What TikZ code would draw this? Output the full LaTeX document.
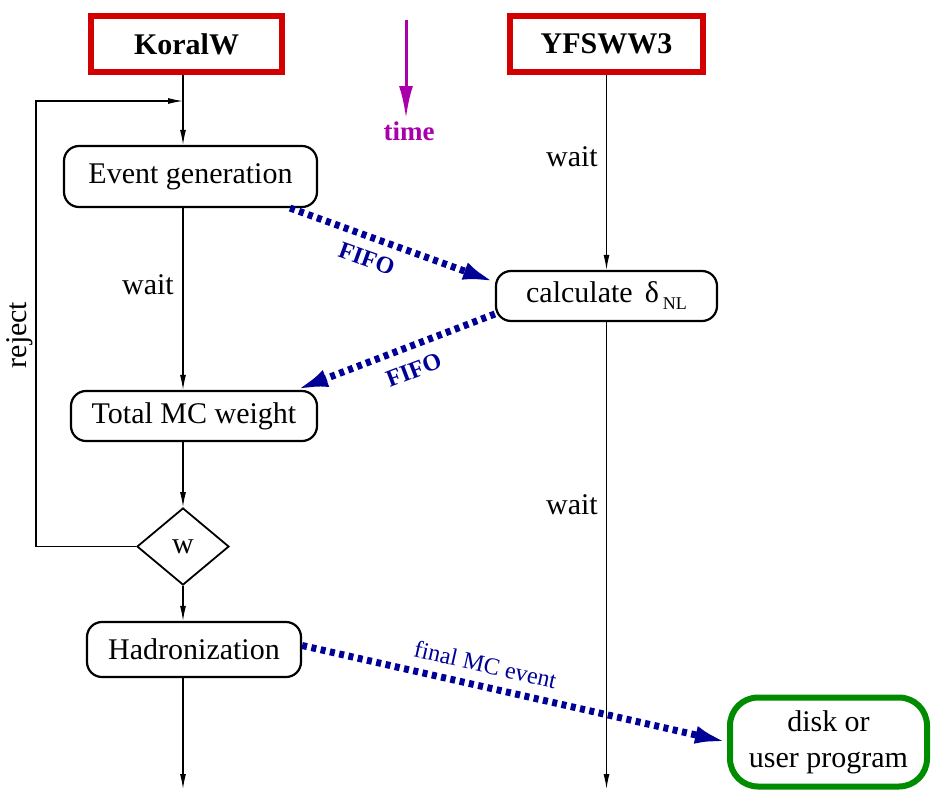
\documentclass[tikz,border=0pt]{standalone}
\usepackage{fontspec}
\setmainfont{Liberation Serif}
\usetikzlibrary{shapes.geometric,arrows.meta}
\definecolor{fifocol}{RGB}{0,0,150}
\definecolor{boxred}{RGB}{210,0,0}
\definecolor{boxgreen}{RGB}{0,140,0}
\definecolor{timecol}{RGB}{170,0,170}
\begin{document}
\begin{tikzpicture}[x=1pt,y=-1pt,
  font=\fontsize{30}{36}\selectfont,
  prog/.style={draw=boxred,line width=6pt,inner sep=0pt,minimum height=56pt,font=\fontsize{30}{36}\selectfont\bfseries},
  proc/.style={draw,line width=2.2pt,rounded corners=15pt,inner sep=0pt},
  flow/.style={line width=1.2pt,-{Latex[length=15pt,width=6pt]}},
  fifo/.style={draw=fifocol,line width=7pt,dash pattern=on 5pt off 4.5pt,-{Latex[length=32pt,width=18pt]}},
  lab/.style={inner sep=0pt},
  fifolab/.style={inner sep=0pt,text=fifocol,font=\fontsize{24}{28}\selectfont\bfseries},
]
\useasboundingbox (0,0) rectangle (931,790);

% program boxes
\node[prog,minimum width=191pt] (koral) at (186.5,44) {KoralW};
\node[prog,minimum width=193pt] (yfs) at (606.5,44) {YFSWW3};

% KoralW column
\node[proc,minimum width=253pt,minimum height=61pt] (evg) at (190.5,176.5) {Event generation};
\node[proc,minimum width=246pt,minimum height=50pt] (tmc) at (194,416) {Total MC weight};
\node[draw,diamond,line width=1.8pt,inner sep=0pt,minimum width=92pt,minimum height=77pt] (dia) at (183,546.5) {w};
\node[proc,minimum width=214pt,minimum height=55pt] (had) at (194,649.5) {Hadronization};
\coordinate (kend) at (183,789);
\coordinate (rj) at (36,101);
\coordinate (join) at (183,101);

% YFSWW3 column
\node[proc,minimum width=221pt,minimum height=50pt] (calc) at (606.5,296)
  {calculate\hspace{12pt}δ\hspace{4pt}\raisebox{-7pt}{\fontsize{18}{18}\selectfont NL}};
\coordinate (yend) at (606.5,789);

% output box
\node[draw=boxgreen,line width=6pt,rounded corners=28pt,inner sep=0pt,minimum width=197pt,minimum height=89pt,align=center,font=\fontsize{30}{36}\selectfont] (disk) at (828.5,742) {disk or\\user program};

% time arrow
\coordinate (t0) at (406,20);
\coordinate (t1) at (406,118);
\draw[timecol,line width=3pt,-{Latex[length=32pt,width=14pt]}] (t0) -- (t1);
\node[lab,text=timecol,font=\fontsize{27}{30}\selectfont\bfseries] (time) at (409,131) {time};

% KoralW flow
\draw[flow] (koral.south -| dia.north) -- (evg.north -| dia.north);
\draw[flow] (evg.south -| dia.north) -- (tmc.north -| dia.north);
\draw[flow] (tmc.south -| dia.north) -- (dia.north);
\draw[flow] (dia.south) -- (had.north -| dia.north);
\draw[flow] (had.south -| dia.north) -- (kend);
\draw[flow] (dia.west) -| (rj) -- (join);
\node[lab,anchor=east] (w1) at (174,285) {wait};
\node[lab,rotate=90] (rej) at (20,335) {reject};

% YFSWW3 flow
\draw[flow] (yfs.south) -- (calc.north);
\draw[flow] (calc.south) -- (yend);
\node[lab,anchor=east] (w2) at (598,157) {wait};
\node[lab,anchor=east] (w3) at (598,505) {wait};

% FIFO transfers
\draw[fifo] ([xshift=-28pt]evg.south east) -- ([yshift=14pt]calc.west)
  node[fifolab,pos=0.41,sloped,below=10pt] {FIFO};
\draw[fifo] ([yshift=-18pt]calc.west) -- ([xshift=-22pt]tmc.north east)
  node[fifolab,pos=0.45,sloped,below=12pt] {FIFO};
\draw[fifo] ([yshift=4pt]had.east) -- (disk.west)
  node[lab,text=fifocol,font=\fontsize{24}{28}\selectfont,pos=0.42,sloped,above=10pt] {final MC event};
\end{tikzpicture}
\end{document}
